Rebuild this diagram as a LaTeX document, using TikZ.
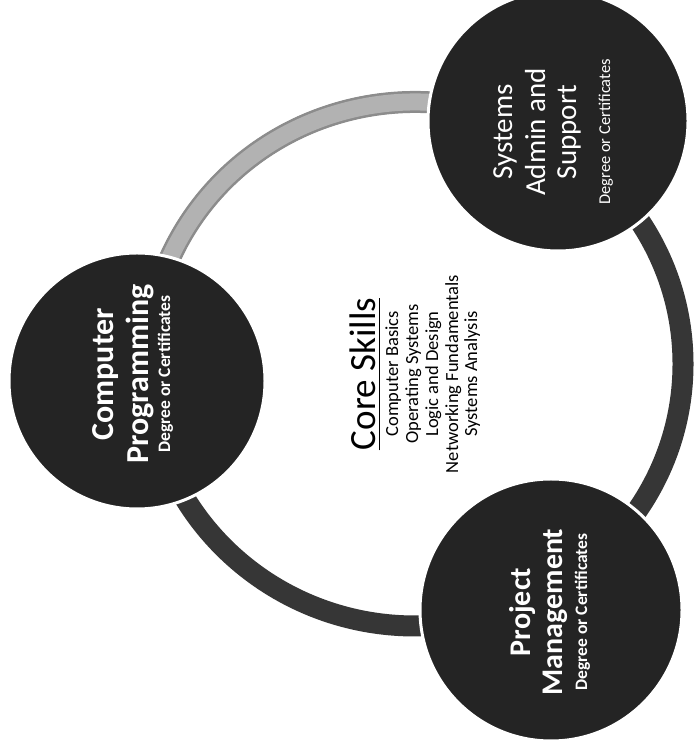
\documentclass[tikz,border=0pt]{standalone}
\usepackage{fontspec}
\usetikzlibrary{calc}
\setmainfont{Carlito}
\definecolor{ringdark}{HTML}{363636}
\definecolor{ringlight}{HTML}{B2B2B2}
\definecolor{ringedge}{HTML}{8C8C8C}
\definecolor{disc}{HTML}{242424}
\begin{document}
\begin{tikzpicture}[x=1pt,y=1pt,
  disk/.style={circle,fill=disc,draw=white,line width=3pt,minimum size=#1,inner sep=0pt},
  wl/.style={rotate=90,anchor=base,text=white,inner sep=0pt},
  bl/.style={rotate=90,anchor=base,text=black,inner sep=0pt},
  hb/.style={font=\fontsize{#1}{#1}\selectfont\bfseries},
  hr/.style={font=\fontsize{#1}{#1}\selectfont}]
\useasboundingbox (0,0) rectangle (693,743);
\fill[white] (0,0) rectangle (693,743);
\coordinate (ringc) at (415,379);
% ring
\draw[ringdark,line width=21pt] (ringc) ellipse[x radius=268,y radius=262];
\draw[ringedge,line width=22pt] ($(ringc)+(60:268 and 262)$) arc[start angle=60,end angle=184,x radius=268,y radius=262];
\draw[ringlight,line width=17pt] ($(ringc)+(60:268 and 262)$) arc[start angle=60,end angle=184,x radius=268,y radius=262];
% circles
\node[disk=256pt] (cp) at (137,362) {};
\node[disk=260pt] (sa) at (558,622) {};
\node[disk=262pt] (pm) at (551,133) {};
% Computer Programming
\node[wl,hb=32] (cp1) at (113,369) {Computer};
\node[wl,hb=32] (cp2) at (148,369) {Programming};
\node[wl,hb=17.5] (cp3) at (170,369) {Degree or Certificates};
% Systems Admin and Support
\node[wl,hr=29] (sa1) at (512,611) {Systems};
\node[wl,hr=29] (sa2) at (545,611) {Admin and};
\node[wl,hr=29] (sa3) at (576,611) {Support};
\node[wl,hr=16.5] (sa4) at (610,611) {Degree or Certificates};
% Project Management
\node[wl,hb=30] (pm1) at (530,131) {Project};
\node[wl,hb=30] (pm2) at (562,131) {Management};
\node[wl,hb=17.5] (pm3) at (587,131) {Degree or Certificates};
% Core skills
\node[bl,hr=37] (core) at (375,369) {Core Skills};
\draw[line width=1.8pt] ($(core.base west)+(4.5,0)$) -- ($(core.base east)+(4.5,0)$);
\node[bl,hr=18.5] (c1) at (398,369) {Computer Basics};
\node[bl,hr=18.5] (c2) at (418,369) {Operating Systems};
\node[bl,hr=18.5] (c3) at (438,369) {Logic and Design};
\node[bl,hr=18.5] (c4) at (458,369) {Networking Fundamentals};
\node[bl,hr=18.5] (c5) at (477,369) {Systems Analysis};
\end{tikzpicture}
\end{document}
